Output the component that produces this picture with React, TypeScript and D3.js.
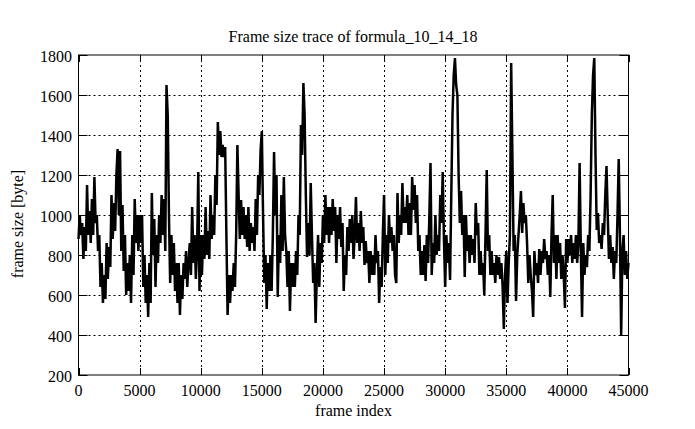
import React from "react";
import * as d3 from "d3";

const TITLE = "Frame size trace of formula_10_14_18";
const X_LABEL = "frame index";
const Y_LABEL = "frame size [byte]";
const X_TICKS = [0, 5000, 10000, 15000, 20000, 25000, 30000, 35000, 40000, 45000];
const Y_TICKS = [200, 400, 600, 800, 1000, 1200, 1400, 1600, 1800];
const FRAME_STEP = 100;
// frame size sampled every 100 frames, starting at frame 0
const FRAME_SIZES = [
  880, 1000, 900, 960, 780, 940, 820, 1150, 900, 1020, 860,
  1080, 900, 1190, 960, 1000, 820, 900, 640, 760, 560,
  700, 580, 860, 680, 840, 740, 1100, 880, 1060, 920,
  1200, 1330, 1000, 1320, 820, 1050, 720, 900, 600, 760,
  620, 800, 560, 900, 700, 1080, 860, 1000, 820, 1000,
  860, 1000, 640, 800, 560, 700, 490, 760, 560, 1110,
  800, 980, 640, 900, 760, 1000, 860, 1100, 900, 1080,
  820, 1650, 1500, 1000, 660, 900, 700, 860, 620, 760,
  560, 760, 500, 700, 580, 760, 680, 820, 640, 760,
  860, 700, 1040, 760, 900, 680, 820, 1215, 620, 900,
  700, 900, 780, 1040, 800, 920, 780, 1100, 880, 1000,
  900, 1200, 1050, 1465, 1300, 1420, 1290, 1350, 1290, 1340,
  900, 500, 700, 560, 700, 620, 760, 640, 900, 1350,
  1100, 880, 1075, 900, 1040, 880, 1000, 840, 1040, 820,
  960, 860, 940, 820, 1080, 900, 1200, 1100, 1325, 1420,
  1000, 660, 800, 530, 760, 620, 800, 620, 900, 1315,
  1000, 1200, 590, 900, 760, 1100, 820, 1190, 900, 820,
  640, 820, 520, 760, 640, 760, 640, 820, 700, 1000,
  900, 1450, 1300, 1660, 1500, 1100, 790, 960, 800, 1160,
  900, 660, 760, 460, 700, 900, 640, 860, 760, 1000,
  860, 1100, 900, 1040, 860, 1040, 900, 1080, 920, 1040,
  760, 1000, 880, 1040, 840, 960, 620, 800, 700, 940,
  820, 980, 860, 1000, 780, 900, 1090, 860, 960, 820,
  1020, 860, 940, 750, 870, 760, 820, 660, 820, 700,
  800, 700, 900, 760, 820, 560, 740, 640, 900, 1100,
  700, 900, 760, 1000, 860, 940, 820, 900, 700, 660,
  1110, 860, 1000, 900, 1160, 960, 1040, 960, 1100, 900,
  1060, 900, 1190, 1025, 1150, 960, 1100, 820, 900, 700,
  820, 700, 850, 670, 900, 760, 980, 1260, 700, 860,
  760, 1000, 800, 900, 820, 1100, 960, 1215, 880, 640,
  900, 760, 860, 675, 1100, 1500, 1700, 1785, 1650, 1600,
  1200, 960, 1120, 900, 1000, 690, 1000, 820, 900, 760,
  900, 800, 880, 760, 1060, 900, 960, 700, 820, 700,
  760, 600, 900, 1225, 820, 900, 700, 820, 700, 760,
  660, 800, 700, 790, 680, 760, 640, 430, 700, 820,
  560, 760, 900, 1760, 1300, 820, 900, 570, 800, 900,
  1000, 1120, 910, 1060, 960, 1000, 860, 660, 800, 700,
  620, 490, 820, 700, 760, 660, 830, 700, 820, 760,
  880, 780, 820, 700, 800, 590, 900, 1100, 760, 900,
  680, 900, 760, 860, 680, 800, 700, 535, 880, 760,
  880, 800, 900, 760, 860, 780, 900, 760, 860, 1260,
  820, 490, 860, 700, 800, 740, 900, 820, 1100, 1500,
  1700, 1785, 1300, 925, 1010, 860, 900, 830, 960, 900,
  1100, 1245, 1000, 780, 900, 760, 840, 680, 820, 760,
  1000, 1280, 900, 400, 820, 900, 700, 820, 680, 760,
];

const W = 695;
const H = 429;
const M = { left: 78.5, right: 628.5, top: 55, bottom: 375 };
const FONT = "'Liberation Serif', 'DejaVu Serif', serif";
const FS = 16;

export default function App() {
  const x = d3.scaleLinear().domain([0, 45000]).range([M.left, M.right]);
  const y = d3.scaleLinear().domain([200, 1800]).range([M.bottom, M.top]);
  const data = FRAME_SIZES.map((v, i) => [i * FRAME_STEP, v] as [number, number]);
  const line = d3
    .line<[number, number]>()
    .x((d) => x(d[0]))
    .y((d) => y(d[1]));

  return (
    <svg
      width={W}
      height={H}
      style={{ position: "absolute", left: 0, top: 0, background: "#fff" }}
      fontFamily={FONT}
    >
      <rect x={0} y={0} width={W} height={H} fill="#fff" />
      {X_TICKS.slice(1, -1).map((t) => (
        <line
          key={"gx" + t}
          x1={Math.round(x(t)) + 0.5}
          x2={Math.round(x(t)) + 0.5}
          y1={M.top}
          y2={M.bottom}
          stroke="#000"
          strokeWidth={1}
          strokeDasharray="2,3"
        />
      ))}
      {Y_TICKS.slice(1, -1).map((t) => (
        <line
          key={"gy" + t}
          x1={M.left}
          x2={M.right}
          y1={Math.round(y(t)) + 0.5}
          y2={Math.round(y(t)) + 0.5}
          stroke="#000"
          strokeWidth={1}
          strokeDasharray="2,3"
        />
      ))}
      {X_TICKS.map((t) => (
        <g key={"tx" + t}>
          <line x1={Math.round(x(t)) + 0.5} x2={Math.round(x(t)) + 0.5} y1={M.bottom} y2={M.bottom - 7} stroke="#000" />
          <line x1={Math.round(x(t)) + 0.5} x2={Math.round(x(t)) + 0.5} y1={M.top} y2={M.top + 7} stroke="#000" />
        </g>
      ))}
      {Y_TICKS.map((t) => (
        <g key={"ty" + t}>
          <line x1={M.left} x2={M.left + 9} y1={Math.round(y(t)) + 0.5} y2={Math.round(y(t)) + 0.5} stroke="#000" />
          <line x1={M.right} x2={M.right - 9} y1={Math.round(y(t)) + 0.5} y2={Math.round(y(t)) + 0.5} stroke="#000" />
        </g>
      ))}
      <path d={line(data) || ""} fill="none" stroke="#000" strokeWidth={2.5} strokeLinejoin="miter" />
      <rect
        x={M.left}
        y={M.top}
        width={M.right - M.left}
        height={M.bottom - M.top}
        fill="none"
        stroke="#000"
        strokeWidth={1}
      />
      {Y_TICKS.map((t) => (
        <text key={"ly" + t} x={72} y={y(t) + 6.5} textAnchor="end" fontSize={FS}>
          {t}
        </text>
      ))}
      {X_TICKS.map((t) => (
        <text key={"lx" + t} x={x(t)} y={395.5} textAnchor="middle" fontSize={FS}>
          {t}
        </text>
      ))}
      <text x={353.5} y={416} textAnchor="middle" fontSize={FS}>
        {X_LABEL}
      </text>
      <text transform="translate(23,224) rotate(-90)" textAnchor="middle" fontSize={FS}>
        {Y_LABEL}
      </text>
      <text x={353} y={42} textAnchor="middle" fontSize={FS}>
        {TITLE}
      </text>
    </svg>
  );
}
